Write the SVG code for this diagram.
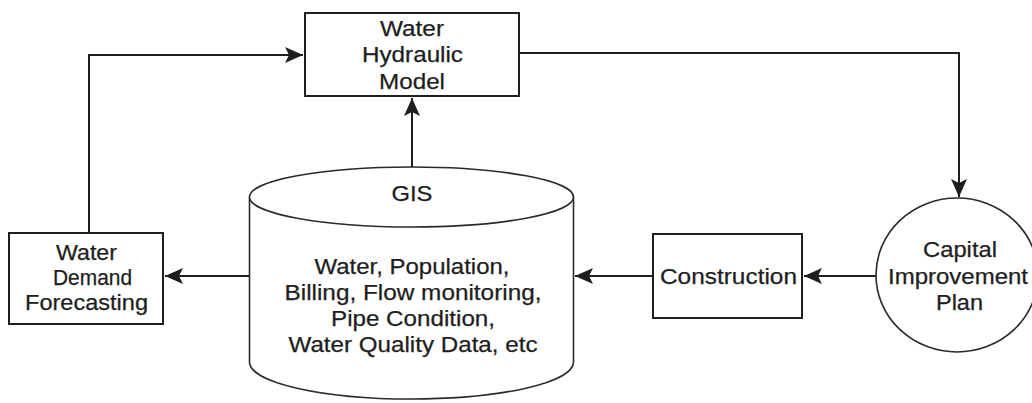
<svg xmlns="http://www.w3.org/2000/svg" width="1032" height="403" viewBox="0 0 1032 403">
<style>
  .box { fill: #fff; stroke: #1e1e1e; stroke-width: 2; }
  .thin { fill: #fff; stroke: #2a2a2a; stroke-width: 1.6; }
  .conn { fill: none; stroke: #1e1e1e; stroke-width: 2; }
  text { font-family: "Liberation Sans", Arial, sans-serif; font-size: 21.5px; fill: #1e1e1e; stroke: #1e1e1e; stroke-width: 0.25; text-anchor: middle; }
</style>
<defs>
  <marker id="arrow" markerUnits="userSpaceOnUse" markerWidth="20" markerHeight="16" refX="18" refY="8" orient="auto">
    <path d="M0,0 L18,8 L0,16 L4,8 Z" fill="#1e1e1e"/>
  </marker>
</defs>
<rect width="1032" height="403" fill="#fff"/>

<g id="connectors">
  <path class="conn" d="M89,233 V55 H303" marker-end="url(#arrow)"/>
  <path class="conn" d="M519,53 H959 V197" marker-end="url(#arrow)"/>
  <path class="conn" d="M412,167 V98" marker-end="url(#arrow)"/>
  <path class="conn" d="M249,276 H165" marker-end="url(#arrow)"/>
  <path class="conn" d="M653,276 H575" marker-end="url(#arrow)"/>
  <path class="conn" d="M876,276 H804" marker-end="url(#arrow)"/>
</g>

<g id="model">
  <rect class="box" x="305" y="13" width="214" height="83"/>
  <text x="412" y="35.5" textLength="64" lengthAdjust="spacingAndGlyphs">Water</text>
  <text x="412.5" y="62" textLength="101" lengthAdjust="spacingAndGlyphs">Hydraulic</text>
  <text x="412" y="89" textLength="66" lengthAdjust="spacingAndGlyphs">Model</text>
</g>

<g id="gis">
  <path class="thin" d="M249.5,197 V362 A162,37 0 0 0 573.5,362 V197"/>
  <ellipse class="thin" cx="411.5" cy="197" rx="162" ry="30"/>
  <text x="412" y="201" textLength="41" lengthAdjust="spacingAndGlyphs">GIS</text>
  <text x="412" y="274" textLength="195" lengthAdjust="spacingAndGlyphs">Water, Population,</text>
  <text x="413" y="300" textLength="257" lengthAdjust="spacingAndGlyphs">Billing, Flow monitoring,</text>
  <text x="413" y="326" textLength="164" lengthAdjust="spacingAndGlyphs">Pipe Condition,</text>
  <text x="413" y="352" textLength="249" lengthAdjust="spacingAndGlyphs">Water Quality Data, etc</text>
</g>

<g id="demand">
  <rect class="box" x="9" y="233" width="154" height="91"/>
  <text x="86.5" y="260" textLength="61" lengthAdjust="spacingAndGlyphs">Water</text>
  <text x="92.5" y="285" textLength="79" lengthAdjust="spacingAndGlyphs">Demand</text>
  <text x="86.5" y="310" textLength="123" lengthAdjust="spacingAndGlyphs">Forecasting</text>
</g>

<g id="construction">
  <rect class="box" x="653" y="234" width="149" height="84"/>
  <text x="728.5" y="284" textLength="137" lengthAdjust="spacingAndGlyphs">Construction</text>
</g>

<g id="cip">
  <ellipse class="thin" cx="957" cy="275" rx="81" ry="77"/>
  <text x="960" y="257" textLength="74" lengthAdjust="spacingAndGlyphs">Capital</text>
  <text x="958" y="284" textLength="140" lengthAdjust="spacingAndGlyphs">Improvement</text>
  <text x="959.5" y="310" textLength="47" lengthAdjust="spacingAndGlyphs">Plan</text>
</g>
</svg>
